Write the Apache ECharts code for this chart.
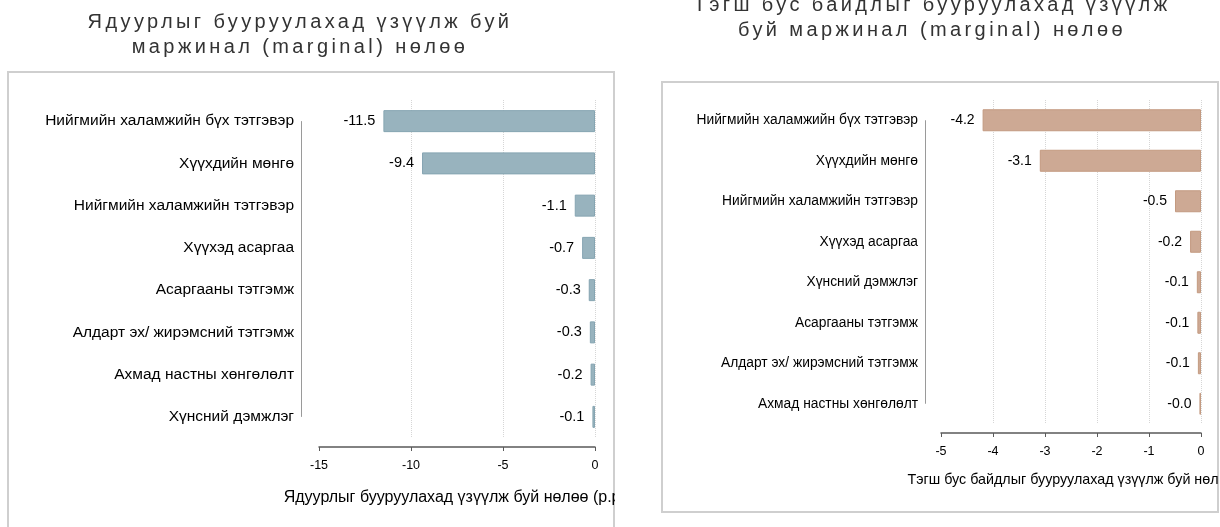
<!DOCTYPE html>
<html>
<head>
<meta charset="utf-8">
<script src="https://cdn.jsdelivr.net/npm/echarts@6/dist/echarts.min.js"></script>
<style>
  html, body { margin: 0; padding: 0; background: #fff; width: 1220px; height: 527px; overflow: hidden; }
  #left { position: absolute; left: 0; top: 0; width: 615px; height: 527px; }
  #right { position: absolute; left: 620px; top: 0; width: 599px; height: 527px; }
  .ttl { position: absolute; font-family: "Liberation Sans", Arial, sans-serif; font-size: 20px; line-height: 25px;
         letter-spacing: 3.4px; color: #333; text-align: center; white-space: nowrap; z-index: 5; }
</style>
</head>
<body>
<div id="left"></div>
<div id="right"></div>
<div class="ttl" id="tl" style="left:0; width:600px; top:9px;">Ядуурлыг бууруулахад үзүүлж буй<br>маржинал (marginal) нөлөө</div>
<div class="ttl" id="tr" style="left:632px; width:600px; top:-8px;">Тэгш бус байдлыг бууруулахад үзүүлж<br>буй маржинал (marginal) нөлөө</div>
<script>
// ---- data ----
const povertyCategories = ['Нийгмийн халамжийн бүх тэтгэвэр', 'Хүүхдийн мөнгө', 'Нийгмийн халамжийн тэтгэвэр', 'Хүүхэд асаргаа', 'Асаргааны тэтгэмж', 'Алдарт эх/ жирэмсний тэтгэмж', 'Ахмад настны хөнгөлөлт', 'Хүнсний дэмжлэг'];
const povertyValues = [-11.5, -9.4, -1.1, -0.7, -0.34, -0.28, -0.24, -0.14];
const povertyTicks = { min: -15, max: 0, interval: 5 };
const povertyAxisName = 'Ядуурлыг бууруулахад үзүүлж буй нөлөө (р.р.)';

const inequalityCategories = ['Нийгмийн халамжийн бүх тэтгэвэр', 'Хүүхдийн мөнгө', 'Нийгмийн халамжийн тэтгэвэр', 'Хүүхэд асаргаа', 'Хүнсний дэмжлэг', 'Асаргааны тэтгэмж', 'Алдарт эх/ жирэмсний тэтгэмж', 'Ахмад настны хөнгөлөлт'];
const inequalityValues = [-4.2, -3.1, -0.5, -0.21, -0.08, -0.07, -0.06, -0.03];
const inequalityTicks = { min: -5, max: 0, interval: 1 };
const inequalityAxisName = 'Тэгш бус байдлыг бууруулахад үзүүлж буй нөлөө';

const FONT = '"Liberation Sans", Arial, sans-serif';

function build(el, cfg) {
  const chart = echarts.init(el, null, { renderer: 'canvas' });
  chart.setOption({
    animation: false,
    backgroundColor: 'transparent',
    textStyle: { fontFamily: FONT },
    graphic: [{
      id: 'frame', type: 'rect', silent: true, z: -1,
      shape: cfg.frame,
      style: { fill: 'none', stroke: '#cfcfcf', lineWidth: 2 }
    }],
    grid: Object.assign({ containLabel: false, outerBoundsMode: 'none' }, cfg.grid),
    xAxis: {
      type: 'value', min: cfg.ticks.min, max: cfg.ticks.max, interval: cfg.ticks.interval,
      offset: 9,
      axisLine: { show: true, lineStyle: { color: '#5a5a5a', width: 1.5 } },
      axisTick: { show: true, length: 4, lineStyle: { color: '#5a5a5a' } },
      axisLabel: { fontSize: 12.5, color: '#000', margin: 12, fontFamily: FONT },
      splitLine: { show: true, showMinLine: false, lineStyle: { type: 'dotted', color: '#d6d6d6', width: 1 } },
      name: cfg.axisName, nameLocation: 'middle', nameGap: cfg.nameGap,
      nameTextStyle: { fontSize: cfg.nameSize, color: '#000', fontFamily: FONT }
    },
    yAxis: {
      type: 'category', inverse: true, data: cfg.categories,
      axisLine: { show: false }, axisTick: { show: false },
      axisLabel: { fontSize: cfg.catSize, color: '#000', margin: cfg.catMargin, fontFamily: FONT },
      splitLine: { show: false }
    },
    series: [{
      type: 'bar', data: cfg.values, barWidth: 22,
      itemStyle: { color: cfg.color, borderColor: cfg.border, borderWidth: 1 },
      label: {
        show: true, position: 'left', distance: 8, color: '#000', fontSize: cfg.valSize, fontFamily: FONT,
        formatter: p => p.value.toFixed(1)
      }
    }]
  });
  // vertical category rule, spanning first to last category centre
  const y1 = chart.convertToPixel({ yAxisIndex: 0 }, cfg.categories[0]);
  const y2 = chart.convertToPixel({ yAxisIndex: 0 }, cfg.categories[cfg.categories.length - 1]);
  chart.setOption({
    graphic: [{
      id: 'vline', type: 'line', silent: true,
      shape: { x1: cfg.lineX, y1: y1, x2: cfg.lineX, y2: y2 },
      style: { stroke: '#9a9a9a', lineWidth: 1 }
    }]
  });
  return chart;
}

build(document.getElementById('left'), {
  categories: povertyCategories, values: povertyValues, ticks: povertyTicks, axisName: povertyAxisName,
  frame: { x: 8, y: 72, width: 606, height: 480 },
  grid: { left: 319, top: 100, width: 276, height: 338 },
  nameGap: 43, nameSize: 16, catSize: 15.5, catMargin: 25, valSize: 14.5, lineX: 301.5,
  color: '#98b3be', border: '#86a5b2'
});

build(document.getElementById('right'), {
  categories: inequalityCategories, values: inequalityValues, ticks: inequalityTicks, axisName: inequalityAxisName,
  frame: { x: 42, y: 82, width: 556, height: 430 },
  grid: { left: 321, top: 100, width: 260, height: 324 },
  nameGap: 40, nameSize: 14.3, catSize: 13.8, catMargin: 23, valSize: 14, lineX: 305.5,
  color: '#cda994', border: '#c39a80'
});
</script>
</body>
</html>
